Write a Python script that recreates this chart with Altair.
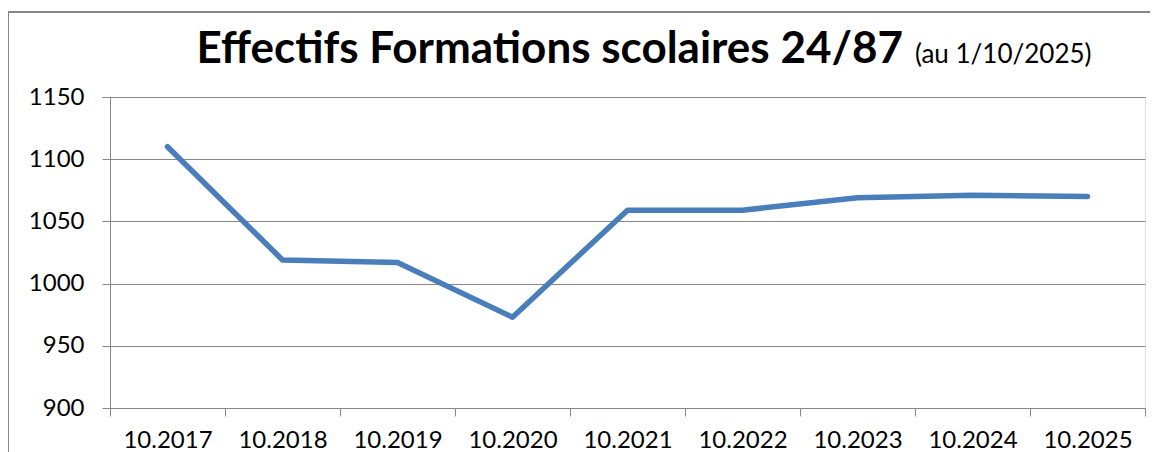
import altair as alt
import pandas as pd

categories = ["10.2017", "10.2018", "10.2019", "10.2020", "10.2021",
              "10.2022", "10.2023", "10.2024", "10.2025"]
values = [1110, 1019, 1017, 973, 1059, 1059, 1069, 1071, 1070]
y_ticks = [900, 950, 1000, 1050, 1100, 1150]
title_main = "Effectifs Formations scolaires 24/87"
title_note = "(au 1/10/2025)"

df = pd.DataFrame({"annee": categories, "effectif": values})

W, H = 1035, 311
GRAY = "#868686"
FONT = "Lato"

xenc = alt.X("annee:N", sort=categories, bandPosition=0.5,
             scale=alt.Scale(type="band", paddingInner=0, paddingOuter=0),
             axis=alt.Axis(title=None, labelAngle=0, tickBand="extent",
                           domainColor=GRAY, tickColor=GRAY, tickSize=8,
                           labelPadding=12, labelFontSize=24, labelFont=FONT,
                           labelColor="#000000", grid=False))
yenc = alt.Y("effectif:Q",
             scale=alt.Scale(domain=[900, 1150], nice=False, zero=False),
             axis=alt.Axis(title=None, values=y_ticks, format="d", grid=True,
                           gridColor=GRAY, domainColor=GRAY, tickColor=GRAY,
                           tickSize=8, labelPadding=18, labelFontSize=24,
                           labelFont=FONT, labelColor="#000000"))

line = alt.Chart(df).mark_line(color="#4a7ebb", strokeWidth=5.5,
                               strokeCap="round", strokeJoin="round").encode(
    x=xenc, y=yenc)

border = alt.Chart(df).mark_rect(fill=None, stroke=GRAY, strokeWidth=2).encode(
    x=alt.value(-102), x2=alt.value(1080), y=alt.value(-85), y2=alt.value(420))

t1 = alt.Chart(pd.DataFrame({"t": [title_main]})).mark_text(
    fontSize=44, fontWeight="bold", font=FONT, align="right",
    baseline="alphabetic", color="#000000").encode(
    text="t:N", x=alt.value(793), y=alt.value(-34))
t2 = alt.Chart(pd.DataFrame({"t": [title_note]})).mark_text(
    fontSize=26, fontWeight=400, font=FONT, align="left",
    baseline="alphabetic", color="#000000").encode(
    text="t:N", x=alt.value(805), y=alt.value(-34))

chart = alt.layer(border, line, t1, t2).properties(
    width=W, height=H,
    padding={"left": 102, "top": 89, "right": 5, "bottom": 44},
    autosize=alt.AutoSizeParams(type="none"),
).configure_view(stroke=None).configure(background="white")

chart.save("out.html", embed_options={"renderer": "svg", "actions": False})
